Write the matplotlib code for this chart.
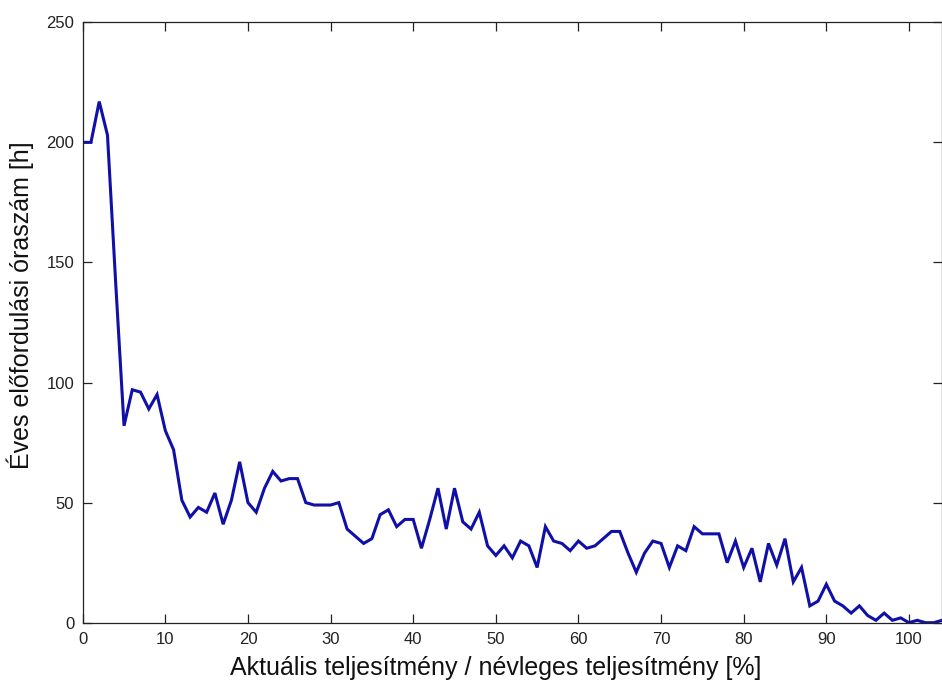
import numpy as np
import matplotlib
matplotlib.use("Agg")
import matplotlib.pyplot as plt

# relative power [%] and yearly occurrence [h]
teljesitmeny = np.arange(0, 105)
oraszam = [
    200, 200, 217, 203, 141, 82, 97, 96, 89, 95,
    80, 72, 51, 44, 48, 46, 54, 41, 51, 67,
    50, 46, 56, 63, 59, 60, 60, 50, 49, 49,
    49, 50, 39, 36, 33, 35, 45, 47, 40, 43,
    43, 31, 43, 56, 39, 56, 42, 39, 46, 32,
    28, 32, 27, 34, 32, 23, 40, 34, 33, 30,
    34, 31, 32, 35, 38, 38, 29, 21, 29, 34,
    33, 23, 32, 30, 40, 37, 37, 37, 25, 34,
    23, 31, 17, 33, 24, 35, 17, 23, 7, 9,
    16, 9, 7, 4, 7, 3, 1, 4, 1, 2,
    0, 1, 0, 0, 1,
]
x_ticks = [0, 10, 20, 30, 40, 50, 60, 70, 80, 90, 100]
y_ticks = [0, 50, 100, 150, 200, 250]

plt.rcParams['font.family'] = ['Liberation Sans', 'DejaVu Sans']

W, H = 942, 691
fig = plt.figure(figsize=(W / 100, H / 100), dpi=100)
ax = fig.add_axes([82.7 / W, 68.3 / H, 859.3 / W, 600.4 / H])

ax.plot(teljesitmeny, oraszam, color='#1010a8', linewidth=2.2,
        solid_joinstyle='miter')

ax.set_xlim(0, 104)
ax.set_ylim(0, 250)
ax.set_xticks(x_ticks)
ax.set_yticks(y_ticks)
ax.tick_params(direction='in', length=6.5, width=0.9, top=True, right=True,
               labelsize=12, colors='#222222', pad=6)
ax.tick_params(axis='x', pad=7)
for s in ax.spines.values():
    s.set_linewidth(0.9)
    s.set_color('#222222')

fig.text(496 / W, 1 - 668 / H,
         'Aktuális teljesítmény / névleges teljesítmény [%]',
         ha='center', va='center', fontsize=18, color='#111111')
fig.text(20 / W, 1 - 305 / H, 'Éves előfordulási óraszám [h]',
         ha='center', va='center', rotation=90, fontsize=18, color='#111111')

fig.savefig('out.png', dpi=100)
